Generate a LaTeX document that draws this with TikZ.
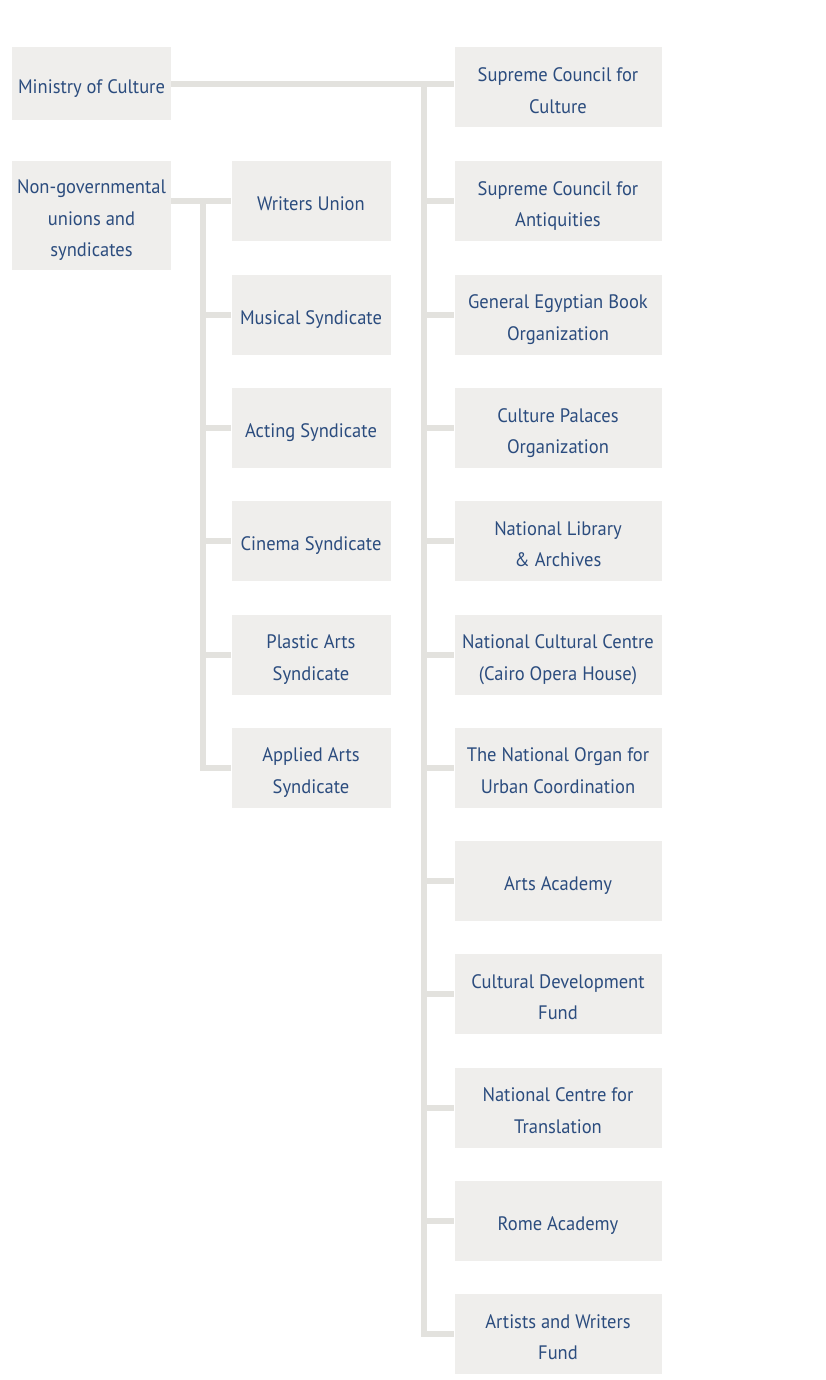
\documentclass[tikz,border=0pt]{standalone}
\usepackage{fontspec}
\setmainfont[FakeStretch=0.95]{PT Sans}
\definecolor{boxfill}{HTML}{EFEEEC}
\definecolor{linecol}{HTML}{E3E2DE}
\definecolor{txtcol}{HTML}{2B4C7E}
\newcommand\bxt[1]{\raisebox{-3.5pt}[\height][\depth]{\begin{tabular}{@{}c@{}}#1\end{tabular}}}
\begin{document}
\begin{tikzpicture}[x=1pt,y=-1pt,
  box/.style={fill=boxfill,draw=none,text=txtcol,inner sep=0pt,
    font=\fontsize{19.5}{31.5}\selectfont},
  lbox/.style={box,minimum width=159pt,minimum height=80pt},
  rbox/.style={box,minimum width=207pt,minimum height=80pt},
  conn/.style={draw=linecol,line width=6pt}]
\useasboundingbox (0,0) rectangle (825,1380);
\node[box,minimum width=159pt,minimum height=73pt] (min) at (91.5,83.5) {\bxt{Ministry of Culture}};
\node[box,minimum width=159pt,minimum height=109pt] (ngo) at (91.5,215.5) {\bxt{Non-governmental\\unions and\\syndicates}};
% left column
\node[lbox] (l1) at (311,201) {\bxt{Writers Union}};
\node[lbox] (l2) at (311,314.5) {\bxt{Musical Syndicate}};
\node[lbox] (l3) at (311,428) {\bxt{Acting Syndicate}};
\node[lbox] (l4) at (311,541) {\bxt{Cinema Syndicate}};
\node[lbox] (l5) at (311,654.5) {\bxt{Plastic Arts\\Syndicate}};
\node[lbox] (l6) at (311,767.5) {\bxt{Applied Arts\\Syndicate}};
% right column
\node[rbox] (r1) at (558,87.5) {\bxt{Supreme Council for\\Culture}};
\node[rbox] (r2) at (558,201) {\bxt{Supreme Council for\\Antiquities}};
\node[rbox] (r3) at (558,314.5) {\bxt{General Egyptian Book\\Organization}};
\node[rbox] (r4) at (558,428) {\bxt{Culture Palaces\\Organization}};
\node[rbox] (r5) at (558,541) {\bxt{National Library\\\&{} Archives}};
\node[rbox] (r6) at (558,654.5) {\bxt{National Cultural Centre\\(Cairo Opera House)}};
\node[rbox] (r7) at (558,767.5) {\bxt{The National Organ for\\Urban Coordination}};
\node[rbox] (r8) at (558,881) {\bxt{Arts Academy}};
\node[rbox] (r9) at (558,994) {\bxt{Cultural Development\\Fund}};
\node[rbox] (r10) at (558,1107.5) {\bxt{National Centre for\\Translation}};
\node[rbox] (r11) at (558,1221) {\bxt{Rome Academy}};
\node[rbox] (r12) at (558,1334) {\bxt{Artists and Writers\\Fund}};
% connectors: ministry
\coordinate (mtop) at (424,84);
\coordinate (mbot) at (424,1334);
\draw[conn] (min.east |- 0,84) -- (r1.west |- 0,84);
\draw[conn] (mtop) -- (mbot) -- (r12.west |- mbot);
\foreach \i in {2,...,11}{
  \draw[conn] (mtop |- r\i.west) -- (r\i.west);
}
% connectors: ngo
\coordinate (ntop) at (203,201);
\coordinate (nbot) at (203,767.5);
\draw[conn] (ngo.east |- l1.west) -- (l1.west);
\draw[conn] (ntop) -- (nbot) -- (l6.west);
\foreach \i in {2,...,5}{
  \draw[conn] (ntop |- l\i.west) -- (l\i.west);
}
\end{tikzpicture}
\end{document}
